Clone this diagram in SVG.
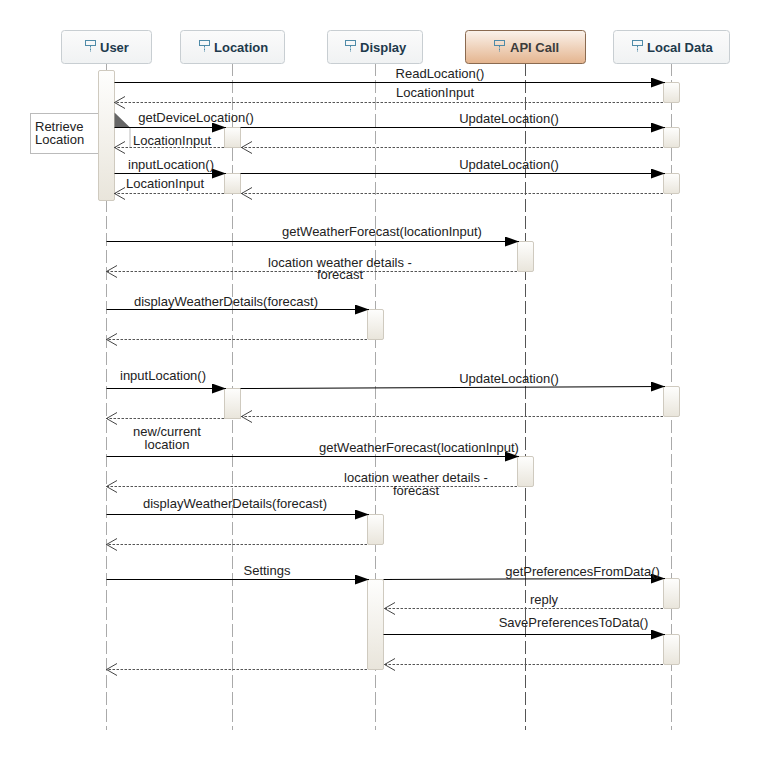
<svg xmlns="http://www.w3.org/2000/svg" width="759" height="760" viewBox="0 0 759 760">
<style>
text{font-family:"Liberation Sans",Arial,sans-serif;font-size:13px;fill:#222;text-anchor:middle}
.head{font-weight:bold;font-size:13px;fill:#1e3a4c;text-anchor:start}
.life{stroke:#aaa;stroke-width:1;stroke-dasharray:13 4;fill:none}
.box{fill:url(#gh);stroke:#c8ced2;stroke-width:1}
.bar{fill:url(#ga);stroke:#cfcabf;stroke-width:1}
.sync{stroke:#000;stroke-width:1.1;fill:none;marker-end:url(#solid)}
.ret{stroke:#555;stroke-width:1;stroke-dasharray:2.500 1.500;fill:none;marker-end:url(#open)}
.ico{fill:none;stroke:#4f8ba8;stroke-width:1}
</style>
<defs>
<linearGradient id="gh" x1="0" y1="0" x2="0" y2="1"><stop offset="0" stop-color="#fbfbfb"/><stop offset="1" stop-color="#f0f2f3"/></linearGradient>
<linearGradient id="gapi" x1="0" y1="0" x2="0" y2="1"><stop offset="0" stop-color="#fbf3ec"/><stop offset="1" stop-color="#e4b48e"/></linearGradient>
<linearGradient id="ga" x1="0" y1="0" x2="0" y2="1"><stop offset="0" stop-color="#fefefd"/><stop offset="1" stop-color="#e9e5db"/></linearGradient>
<marker id="solid" markerUnits="userSpaceOnUse" markerWidth="16" markerHeight="12" refX="14" refY="5" orient="auto"><path d="M0 0L14 5L0 10Z" fill="#000"/></marker>
<marker id="open" markerUnits="userSpaceOnUse" markerWidth="14" markerHeight="14" refX="11" refY="6" orient="auto"><path d="M0 0L10.500 6L0 12" fill="none" stroke="#444" stroke-width="1"/></marker>
<symbol id="pin" viewBox="0 0 12 13" overflow="visible"><rect class="ico" x="0.500" y="0.500" width="10" height="5"/><path class="ico" d="M5.500 5.500V12" stroke-dasharray="2 1"/></symbol>
</defs>

<g id="lifelines">
<path class="life" d="M106.500 63V730"/>
<path class="life" d="M232.500 63V730"/>
<path class="life" d="M375.500 63V730"/>
<path class="life" d="M525.500 63V730" style="stroke:#555"/>
<path class="life" d="M671.500 63V730"/>
</g>

<g id="node-user"><rect class="box" x="61.500" y="30.500" width="90" height="33" rx="3"/><use href="#pin" x="85" y="40" width="12" height="13"/><text class="head" x="100" y="52">User</text></g>
<g id="node-location"><rect class="box" x="180.500" y="30.500" width="104" height="33" rx="3"/><use href="#pin" x="199" y="40" width="12" height="13"/><text class="head" x="214" y="52">Location</text></g>
<g id="node-display"><rect class="box" x="327.500" y="30.500" width="95" height="33" rx="3"/><use href="#pin" x="345" y="40" width="12" height="13"/><text class="head" x="360" y="52">Display</text></g>
<g id="node-api"><rect x="465.500" y="30.500" width="120" height="33" rx="3" fill="url(#gapi)" stroke="#8a6a50"/><use href="#pin" x="494" y="40" width="12" height="13"/><text class="head" x="510" y="52" style="fill:#3c3c3c">API Call</text></g>
<g id="node-localdata"><rect class="box" x="613.500" y="30.500" width="116" height="33" rx="3"/><use href="#pin" x="632" y="40" width="12" height="13"/><text class="head" x="647" y="52">Local Data</text></g>

<g id="note-retrieve"><rect x="30.500" y="113.500" width="68" height="40" fill="#fff" stroke="#bbb"/><text x="35" y="131" style="text-anchor:start">Retrieve<tspan x="35" y="144">Location</tspan></text></g>

<g id="activations">
<rect class="bar" x="98.500" y="70.500" width="16" height="130" rx="1.500"/>
<rect class="bar" x="224.500" y="127.500" width="16" height="20"/>
<rect class="bar" x="224.500" y="173.500" width="16" height="20"/>
<rect class="bar" x="663.500" y="82.500" width="16" height="20" rx="1.500"/>
<rect class="bar" x="663.500" y="127.500" width="16" height="20" rx="1.500"/>
<rect class="bar" x="663.500" y="173.500" width="16" height="20" rx="1.500"/>
<rect class="bar" x="517.500" y="241.500" width="16" height="30" rx="1.500"/>
<rect class="bar" x="367.500" y="309.500" width="16" height="30" rx="1.500"/>
<rect class="bar" x="224.500" y="388.500" width="16" height="30"/>
<rect class="bar" x="663.500" y="386.500" width="16" height="30" rx="1.500"/>
<rect class="bar" x="517.500" y="456.500" width="16" height="30" rx="1.500"/>
<rect class="bar" x="367.500" y="514.500" width="16" height="30" rx="1.500"/>
<rect class="bar" x="367.500" y="579.500" width="16" height="90" rx="1.500"/>
<rect class="bar" x="663.500" y="578.500" width="16" height="30" rx="1.500"/>
<rect class="bar" x="663.500" y="634.500" width="16" height="30" rx="1.500"/>
</g>

<g id="connectors">
<path d="M114.500 112.500L130 127.500H114.500Z" fill="#666"/>
<path d="M130 127.500V147.500" stroke="#bbb" fill="none"/>
<path class="sync" d="M114.500 82.500H665"/>
<path class="ret" d="M663 102.500H114"/>
<path class="sync" d="M114.500 127.500H226"/>
<path class="sync" d="M240.500 127.500H665"/>
<path class="ret" d="M663 147.500H241"/>
<path class="ret" d="M224 147.500H114"/>
<path class="sync" d="M114.500 173.500H226"/>
<path class="sync" d="M240.500 173.500H665"/>
<path class="ret" d="M663 193.500H241"/>
<path class="ret" d="M224 193.500H114"/>
<path class="sync" d="M106.500 241.500H519"/>
<path class="ret" d="M517 271.500H106"/>
<path class="sync" d="M106.500 309.500H369"/>
<path class="ret" d="M367 339.500H106"/>
<path class="sync" d="M106.500 388.500H226"/>
<path class="sync" d="M240.500 388.500L665 386.500"/>
<path class="ret" d="M663 416.500H241"/>
<path class="ret" d="M224 418.500H106"/>
<path class="sync" d="M106.500 456.500H519"/>
<path class="ret" d="M517 486.500H106"/>
<path class="sync" d="M106.500 514.500H369"/>
<path class="ret" d="M367 544.500H106"/>
<path class="sync" d="M106.500 579.500H369"/>
<path class="sync" d="M383.500 579.500L665 578.500"/>
<path class="ret" d="M663 608.500H384"/>
<path class="sync" d="M383.500 634.500H665"/>
<path class="ret" d="M663 664.500H384"/>
<path class="ret" d="M367 669.500H106"/>
</g>

<g id="labels">
<text x="440" y="78">ReadLocation()</text>
<text x="435" y="97">LocationInput</text>
<text x="196" y="122">getDeviceLocation()</text>
<text x="509" y="123">UpdateLocation()</text>
<text x="172" y="145">LocationInput</text>
<text x="171" y="169">inputLocation()</text>
<text x="509" y="169">UpdateLocation()</text>
<text x="165" y="188">LocationInput</text>
<text x="382" y="236">getWeatherForecast(locationInput)</text>
<text x="340" y="267">location weather details -<tspan x="340" y="279">forecast</tspan></text>
<text x="226" y="306">displayWeatherDetails(forecast)</text>
<text x="163" y="380">inputLocation()</text>
<text x="509" y="383">UpdateLocation()</text>
<text x="167" y="436">new/current<tspan x="167" y="449">location</tspan></text>
<text x="419" y="452">getWeatherForecast(locationInput)</text>
<text x="416" y="482">location weather details -<tspan x="416" y="495">forecast</tspan></text>
<text x="235" y="508">displayWeatherDetails(forecast)</text>
<text x="267" y="575">Settings</text>
<text x="582.500" y="576">getPreferencesFromData()</text>
<text x="544" y="604">reply</text>
<text x="573.500" y="627">SavePreferencesToData()</text>
</g>
</svg>
